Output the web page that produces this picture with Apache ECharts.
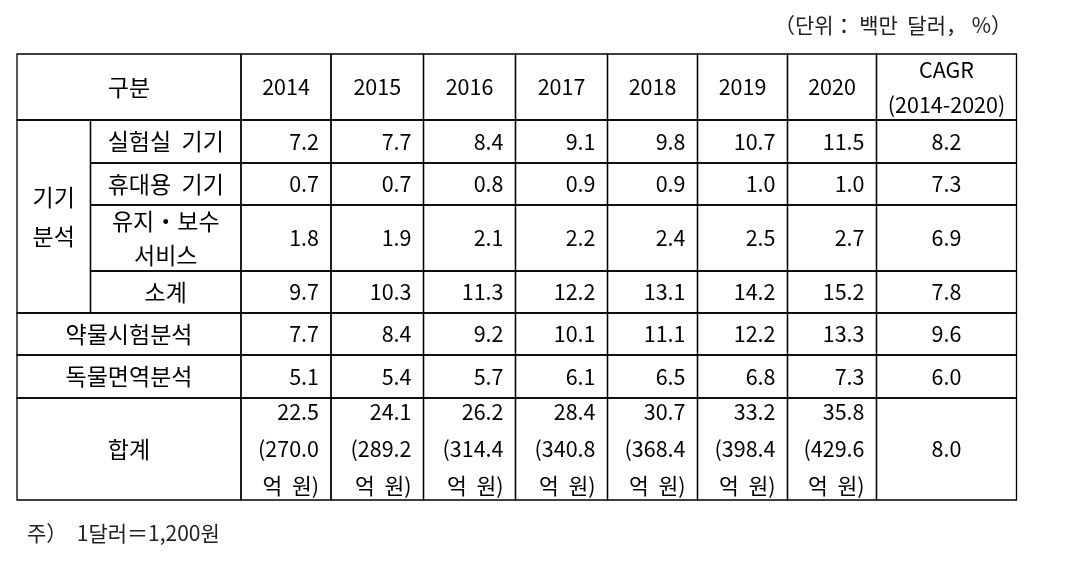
<!DOCTYPE html>
<html>
<head>
<meta charset="utf-8">
<script src="https://cdn.jsdelivr.net/npm/echarts@6/dist/echarts.min.js"></script>
<style>
  html, body { margin: 0; padding: 0; background: #fff; }
  #main { width: 1067px; height: 577px; }
</style>
</head>
<body>
<div id="main"></div>
<script>
// table values (백만 달러)
const years = ['2014', '2015', '2016', '2017', '2018', '2019', '2020'];
const subLabels = ['실험실  기기', '휴대용  기기', '유지・보수\n서비스', '소계'];
const labGear = [7.2, 7.7, 8.4, 9.1, 9.8, 10.7, 11.5];
const portable = [0.7, 0.7, 0.8, 0.9, 0.9, 1.0, 1.0];
const maintenance = [1.8, 1.9, 2.1, 2.2, 2.4, 2.5, 2.7];
const subtotal = [9.7, 10.3, 11.3, 12.2, 13.1, 14.2, 15.2];
const drugTest = [7.7, 8.4, 9.2, 10.1, 11.1, 12.2, 13.3];
const toxImmune = [5.1, 5.4, 5.7, 6.1, 6.5, 6.8, 7.3];
const total = [22.5, 24.1, 26.2, 28.4, 30.7, 33.2, 35.8];
const totalWon = [270.0, 289.2, 314.4, 340.8, 368.4, 398.4, 429.6];
const cagr = [8.2, 7.3, 6.9, 7.8, 9.6, 6.0, 8.0];

// layout (grid edges in px space of the hidden axes)
const colEdges = [17, 90.5, 241, 331, 423.5, 515.5, 607.5, 697.5, 787.5, 876.5, 1016.5];
const rowEdges = [54, 120, 163, 205, 271, 313, 355, 398, 500];
const FONT = '"Noto Sans CJK KR", "Noto Sans", sans-serif';
const NUM_SIZE = 21.5;
const KOR_SIZE = 23;

const cells = [];
function cell(c0, c1, r0, r1, text, align, lh, fs) {
  cells.push({ c0: c0, c1: c1, r0: r0, r1: r1, text: text, align: align || 'center', lh: lh || 26, fs: fs || NUM_SIZE });
}
const fmt = v => v.toFixed(1);

// header
cell(0, 2, 0, 1, '구분', 'center', 26, KOR_SIZE);
years.forEach((y, i) => cell(2 + i, 3 + i, 0, 1, y));
cell(9, 10, 0, 1, 'CAGR\n(2014-2020)', 'center', 35);

// 기기분석 group
cell(0, 1, 1, 5, '기기\n분석', 'center', 39, KOR_SIZE);
[labGear, portable, maintenance, subtotal].forEach((vals, r) => {
  cell(1, 2, 1 + r, 2 + r, subLabels[r], 'center', 34, KOR_SIZE);
  vals.forEach((v, i) => cell(2 + i, 3 + i, 1 + r, 2 + r, fmt(v), 'right'));
  cell(9, 10, 1 + r, 2 + r, fmt(cagr[r]));
});

// other rows
[['약물시험분석', drugTest], ['독물면역분석', toxImmune]].forEach((row, k) => {
  const r = 5 + k;
  cell(0, 2, r, r + 1, row[0], 'center', 26, KOR_SIZE);
  row[1].forEach((v, i) => cell(2 + i, 3 + i, r, r + 1, fmt(v), 'right'));
  cell(9, 10, r, r + 1, fmt(cagr[4 + k]));
});

// 합계
cell(0, 2, 7, 8, '합계', 'center', 26, KOR_SIZE);
total.forEach((v, i) => cell(2 + i, 3 + i, 7, 8, fmt(v) + '\n(' + fmt(totalWon[i]) + '\n억  원)', 'right', 37));
cell(9, 10, 7, 8, fmt(cagr[6]));

var myChart = echarts.init(document.getElementById('main'));
const option = {
  backgroundColor: '#fff',
  animation: false,
  title: [{
    text: '（단위： 백만  달러， %）',
    right: 50,
    top: 10,
    textStyle: { fontFamily: FONT, fontSize: 21, fontWeight: 'normal', color: '#222' }
  }, {
    text: '주）  1달러＝1,200원',
    left: 22,
    top: 518,
    textStyle: { fontFamily: FONT, fontSize: 21, fontWeight: 'normal', color: '#222' }
  }],
  grid: { left: 0, right: 0, top: 0, bottom: 0 },
  xAxis: { type: 'value', min: 0, max: 1067, show: false },
  yAxis: { type: 'value', min: 0, max: 577, inverse: true, show: false },
  series: [{
    type: 'custom',
    clip: false,
    silent: true,
    data: cells.map((c, i) => [i, 0]),
    renderItem: function (params, api) {
      const c = cells[params.dataIndex];
      const p0 = api.coord([colEdges[c.c0], rowEdges[c.r0]]);
      const p1 = api.coord([colEdges[c.c1], rowEdges[c.r1]]);
      const tx = c.align === 'right' ? p1[0] - 12 : (p0[0] + p1[0]) / 2;
      return {
        type: 'group',
        children: [{
          type: 'rect',
          shape: { x: p0[0], y: p0[1], width: p1[0] - p0[0], height: p1[1] - p0[1] },
          style: { fill: 'none', stroke: '#000', lineWidth: 1.3 }
        }, {
          type: 'text',
          style: {
            text: c.text,
            x: tx,
            y: (p0[1] + p1[1]) / 2,
            align: c.align,
            verticalAlign: 'middle',
            fill: '#000',
            fontSize: c.fs,
            fontFamily: FONT,
            lineHeight: c.lh
          }
        }]
      };
    }
  }]
};
myChart.setOption(option);
</script>
</body>
</html>
